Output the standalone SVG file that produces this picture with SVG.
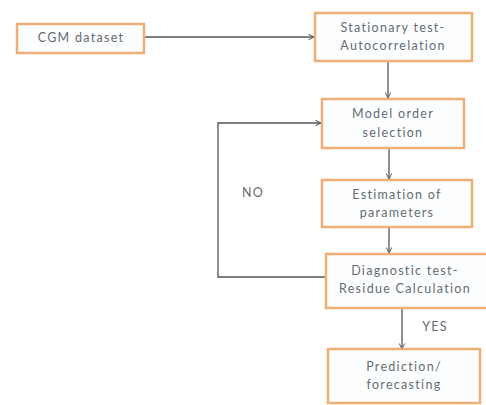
<svg xmlns="http://www.w3.org/2000/svg" width="486" height="405" viewBox="0 0 486 405">
<defs>
<style>
.box{fill:#fdfeff;stroke:#eeae76;stroke-width:2.5}
.t{font-family:Lato,"Liberation Sans",sans-serif;font-size:12.5px;letter-spacing:1.3px;fill:#656b74;text-anchor:middle}
.c{fill:none;stroke:#555;stroke-width:1.3}
</style>
<marker id="ah" viewBox="0 0 10 10" refX="9" refY="5" markerWidth="7" markerHeight="7" orient="auto" markerUnits="userSpaceOnUse">
<path d="M1,1 L9,5 L1,9" fill="none" stroke="#555" stroke-width="1.4"/>
</marker>
</defs>
<rect width="486" height="405" fill="#fff"/>
<g id="connectors">
<line class="c" x1="145" y1="37" x2="314" y2="37" marker-end="url(#ah)"/>
<line class="c" x1="388" y1="61" x2="388" y2="98" marker-end="url(#ah)"/>
<line class="c" x1="389" y1="148" x2="389" y2="179" marker-end="url(#ah)"/>
<line class="c" x1="389" y1="227" x2="389" y2="253" marker-end="url(#ah)"/>
<line class="c" x1="402" y1="308" x2="402" y2="349" marker-end="url(#ah)"/>
<polyline class="c" points="326,277 218,277 218,123 321,123" marker-end="url(#ah)"/>
<text class="t" x="253" y="197">NO</text>
<text class="t" x="435" y="331">YES</text>
</g>
<g id="cgm"><rect class="box" x="17" y="24" width="127" height="29"/><text class="t" x="81" y="42">CGM dataset</text></g>
<g id="stationary"><rect class="box" x="315" y="13" width="157" height="48"/><text class="t" x="393" y="32">Stationary test-</text><text class="t" x="393" y="50">Autocorrelation</text></g>
<g id="model"><rect class="box" x="322" y="99" width="142" height="49"/><text class="t" x="393" y="118">Model order</text><text class="t" x="393" y="137">selection</text></g>
<g id="estimation"><rect class="box" x="322" y="180" width="150" height="47"/><text class="t" x="397" y="199">Estimation of</text><text class="t" x="397" y="217">parameters</text></g>
<g id="diagnostic"><rect class="box" x="326" y="254" width="164" height="54"/><text class="t" x="405" y="275">Diagnostic test-</text><text class="t" x="405" y="293">Residue Calculation</text></g>
<g id="prediction"><rect class="box" x="328" y="349" width="152" height="54"/><text class="t" x="404" y="371">Prediction/</text><text class="t" x="404" y="389">forecasting</text></g>
</svg>
